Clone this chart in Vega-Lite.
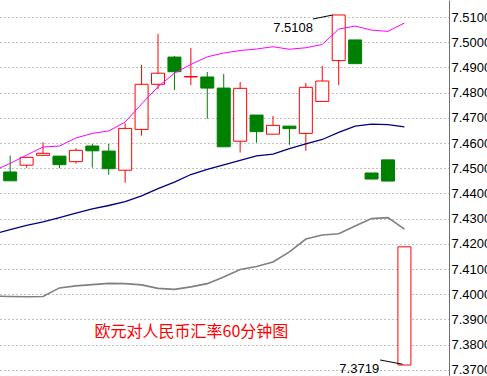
{
  "$schema": "https://vega.github.io/schema/vega-lite/v6.json",
  "width": 449,
  "height": 376,
  "autosize": "none",
  "padding": {"left": 0, "top": 0, "right": 38, "bottom": 0},
  "background": "white",
  "config": {"view": {"stroke": null}, "axis": {"labelOverlap": false, "labelBound": false, "labelFlush": false}},
  "datasets": {
    "candles": [
      {"i": 0, "open": 7.4485, "high": 7.4550, "low": 7.4450, "close": 7.4450},
      {"i": 1, "open": 7.4512, "high": 7.4543, "low": 7.4502, "close": 7.4543},
      {"i": 2, "open": 7.4551, "high": 7.4603, "low": 7.4551, "close": 7.4559},
      {"i": 3, "open": 7.4548, "high": 7.4548, "low": 7.4500, "close": 7.4514},
      {"i": 4, "open": 7.4526, "high": 7.4579, "low": 7.4518, "close": 7.4571},
      {"i": 5, "open": 7.4588, "high": 7.4596, "low": 7.4502, "close": 7.4569},
      {"i": 6, "open": 7.4568, "high": 7.4596, "low": 7.4474, "close": 7.4498},
      {"i": 7, "open": 7.4492, "high": 7.4678, "low": 7.4442, "close": 7.4658},
      {"i": 8, "open": 7.4654, "high": 7.4910, "low": 7.4629, "close": 7.4833},
      {"i": 9, "open": 7.4833, "high": 7.5033, "low": 7.4813, "close": 7.4877},
      {"i": 10, "open": 7.4941, "high": 7.4945, "low": 7.4810, "close": 7.4883},
      {"i": 11, "open": 7.4862, "high": 7.4977, "low": 7.4830, "close": 7.4864},
      {"i": 12, "open": 7.4862, "high": 7.4882, "low": 7.4696, "close": 7.4818},
      {"i": 13, "open": 7.4818, "high": 7.4874, "low": 7.4585, "close": 7.4585},
      {"i": 14, "open": 7.4607, "high": 7.4842, "low": 7.4562, "close": 7.4817},
      {"i": 15, "open": 7.4711, "high": 7.4711, "low": 7.4601, "close": 7.4645},
      {"i": 16, "open": 7.4635, "high": 7.4707, "low": 7.4635, "close": 7.4670},
      {"i": 17, "open": 7.4667, "high": 7.4667, "low": 7.4593, "close": 7.4657},
      {"i": 18, "open": 7.4638, "high": 7.4838, "low": 7.4569, "close": 7.4821},
      {"i": 19, "open": 7.4765, "high": 7.4906, "low": 7.4765, "close": 7.4846},
      {"i": 20, "open": 7.4927, "high": 7.5108, "low": 7.4830, "close": 7.5108},
      {"i": 21, "open": 7.5009, "high": 7.5009, "low": 7.4915, "close": 7.4915},
      {"i": 22, "open": 7.4481, "high": 7.4481, "low": 7.4457, "close": 7.4457},
      {"i": 23, "open": 7.4533, "high": 7.4533, "low": 7.4449, "close": 7.4449},
      {"i": 24, "open": 7.3719, "high": 7.4188, "low": 7.3719, "close": 7.4188}
    ],
    "ma": [
      {"i": -1, "s": "a", "v": 7.4490}, {"i": 0, "s": "a", "v": 7.4519}, {"i": 1, "s": "a", "v": 7.4552}, {"i": 2, "s": "a", "v": 7.4584},
      {"i": 3, "s": "a", "v": 7.4588}, {"i": 4, "s": "a", "v": 7.4620}, {"i": 5, "s": "a", "v": 7.4638}, {"i": 6, "s": "a", "v": 7.4648},
      {"i": 7, "s": "a", "v": 7.4683}, {"i": 8, "s": "a", "v": 7.4755}, {"i": 9, "s": "a", "v": 7.4823}, {"i": 10, "s": "a", "v": 7.4877},
      {"i": 11, "s": "a", "v": 7.4912}, {"i": 12, "s": "a", "v": 7.4942}, {"i": 13, "s": "a", "v": 7.4957}, {"i": 14, "s": "a", "v": 7.4967},
      {"i": 15, "s": "a", "v": 7.4973}, {"i": 16, "s": "a", "v": 7.4982}, {"i": 17, "s": "a", "v": 7.4972}, {"i": 18, "s": "a", "v": 7.4978},
      {"i": 19, "s": "a", "v": 7.4991}, {"i": 20, "s": "a", "v": 7.5052}, {"i": 21, "s": "a", "v": 7.5064}, {"i": 22, "s": "a", "v": 7.5048},
      {"i": 23, "s": "a", "v": 7.5043}, {"i": 24, "s": "a", "v": 7.5076},
      {"i": -1, "s": "b", "v": 7.4239}, {"i": 0, "s": "b", "v": 7.4256}, {"i": 1, "s": "b", "v": 7.4273}, {"i": 2, "s": "b", "v": 7.4287},
      {"i": 3, "s": "b", "v": 7.4304}, {"i": 4, "s": "b", "v": 7.4322}, {"i": 5, "s": "b", "v": 7.4339}, {"i": 6, "s": "b", "v": 7.4352},
      {"i": 7, "s": "b", "v": 7.4367}, {"i": 8, "s": "b", "v": 7.4390}, {"i": 9, "s": "b", "v": 7.4419}, {"i": 10, "s": "b", "v": 7.4445},
      {"i": 11, "s": "b", "v": 7.4475}, {"i": 12, "s": "b", "v": 7.4495}, {"i": 13, "s": "b", "v": 7.4513}, {"i": 14, "s": "b", "v": 7.4531},
      {"i": 15, "s": "b", "v": 7.4549}, {"i": 16, "s": "b", "v": 7.4556}, {"i": 17, "s": "b", "v": 7.4578}, {"i": 18, "s": "b", "v": 7.4597},
      {"i": 19, "s": "b", "v": 7.4614}, {"i": 20, "s": "b", "v": 7.4642}, {"i": 21, "s": "b", "v": 7.4667}, {"i": 22, "s": "b", "v": 7.4675},
      {"i": 23, "s": "b", "v": 7.4673}, {"i": 24, "s": "b", "v": 7.4664},
      {"i": -1, "s": "c", "v": 7.3992}, {"i": 0, "s": "c", "v": 7.3991}, {"i": 1, "s": "c", "v": 7.3990}, {"i": 2, "s": "c", "v": 7.3991},
      {"i": 3, "s": "c", "v": 7.4025}, {"i": 4, "s": "c", "v": 7.4033}, {"i": 5, "s": "c", "v": 7.4038}, {"i": 6, "s": "c", "v": 7.4043},
      {"i": 7, "s": "c", "v": 7.4042}, {"i": 8, "s": "c", "v": 7.4037}, {"i": 9, "s": "c", "v": 7.4023}, {"i": 10, "s": "c", "v": 7.4019},
      {"i": 11, "s": "c", "v": 7.4029}, {"i": 12, "s": "c", "v": 7.4042}, {"i": 13, "s": "c", "v": 7.4068}, {"i": 14, "s": "c", "v": 7.4098},
      {"i": 15, "s": "c", "v": 7.4110}, {"i": 16, "s": "c", "v": 7.4128}, {"i": 17, "s": "c", "v": 7.4168}, {"i": 18, "s": "c", "v": 7.4219},
      {"i": 19, "s": "c", "v": 7.4235}, {"i": 20, "s": "c", "v": 7.4240}, {"i": 21, "s": "c", "v": 7.4271}, {"i": 22, "s": "c", "v": 7.4300},
      {"i": 23, "s": "c", "v": 7.4304}, {"i": 24, "s": "c", "v": 7.4258}
    ],
    "leaders": [
      {"x1": 18.43, "y1": 7.5092, "x2": 19.63, "y2": 7.5108},
      {"x1": 22.52, "y1": 7.3739, "x2": 23.89, "y2": 7.3722}
    ],
    "labels": [
      {"i": 18.43, "v": 7.5055, "t": "7.5108"},
      {"i": 22.46, "v": 7.3703, "t": "7.3719"}
    ],
    "title": [
      {"i": 5.14, "v": 7.3851, "t": "欧元对人民币汇率60分钟图"}
    ]
  },
  "layer": [
    {
      "data": {"name": "candles"},
      "mark": {"type": "rule", "strokeWidth": 1, "clip": true},
      "encoding": {
        "x": {"field": "i", "type": "quantitative", "scale": {"domain": [-0.315, 26.41], "nice": false, "zero": false}, "axis": null},
        "y": {"field": "low", "type": "quantitative", "scale": {"domain": [7.36754, 7.51675], "nice": false, "zero": false},
          "axis": {"orient": "right", "title": null, "values": [7.37, 7.38, 7.39, 7.40, 7.41, 7.42, 7.43, 7.44, 7.45, 7.46, 7.47, 7.48, 7.49, 7.50, 7.51],
            "tickCount": 30,
            "format": ".4f", "ticks": false, "labelPadding": 2, "labelFont": "Liberation Sans", "labelFontSize": 13, "labelColor": "#000000",
            "domainColor": "#707070", "domainWidth": 1, "grid": true, "gridColor": "#808080", "gridDash": [1, 3], "gridWidth": 1, "gridOpacity": 1, "labelOverlap": false, "labelBound": false, "labelFlush": false}},
        "y2": {"field": "high"},
        "color": {"condition": {"test": "datum.close > datum.open", "value": "#ff0000"}, "value": "#008000"}
      }
    },
    {
      "data": {"name": "candles"},
      "mark": {"type": "bar", "size": 13, "strokeWidth": 1, "clip": true},
      "encoding": {
        "x": {"field": "i", "type": "quantitative"},
        "y": {"field": "open", "type": "quantitative"},
        "y2": {"field": "close"},
        "fill": {"condition": {"test": "datum.close > datum.open", "value": "#ffffff"}, "value": "#008000"},
        "stroke": {"condition": {"test": "datum.close > datum.open", "value": "#ff0000"}, "value": "#008000"}
      }
    },
    {
      "data": {"name": "ma"},
      "mark": {"type": "line", "clip": true},
      "encoding": {
        "x": {"field": "i", "type": "quantitative"},
        "y": {"field": "v", "type": "quantitative"},
        "color": {"field": "s", "type": "nominal", "scale": {"domain": ["a", "b", "c"], "range": ["#ff00ff", "#000080", "#808080"]}, "legend": null},
        "strokeWidth": {"field": "s", "type": "nominal", "scale": {"domain": ["a", "b", "c"], "range": [1, 1.6, 1]}, "legend": null}
      }
    },
    {
      "data": {"name": "leaders"},
      "mark": {"type": "rule", "color": "#000000", "strokeWidth": 1},
      "encoding": {
        "x": {"field": "x1", "type": "quantitative"},
        "y": {"field": "y1", "type": "quantitative"},
        "x2": {"field": "x2"},
        "y2": {"field": "y2"}
      }
    },
    {
      "data": {"name": "labels"},
      "mark": {"type": "text", "align": "right", "baseline": "middle", "font": "Liberation Sans", "fontSize": 13, "color": "#000000"},
      "encoding": {
        "x": {"field": "i", "type": "quantitative"},
        "y": {"field": "v", "type": "quantitative"},
        "text": {"field": "t"}
      }
    },
    {
      "data": {"name": "title"},
      "mark": {"type": "text", "align": "left", "baseline": "middle", "font": "Noto Sans CJK SC", "fontSize": 16, "color": "#ff0000"},
      "encoding": {
        "x": {"field": "i", "type": "quantitative"},
        "y": {"field": "v", "type": "quantitative"},
        "text": {"field": "t"}
      }
    }
  ]
}
